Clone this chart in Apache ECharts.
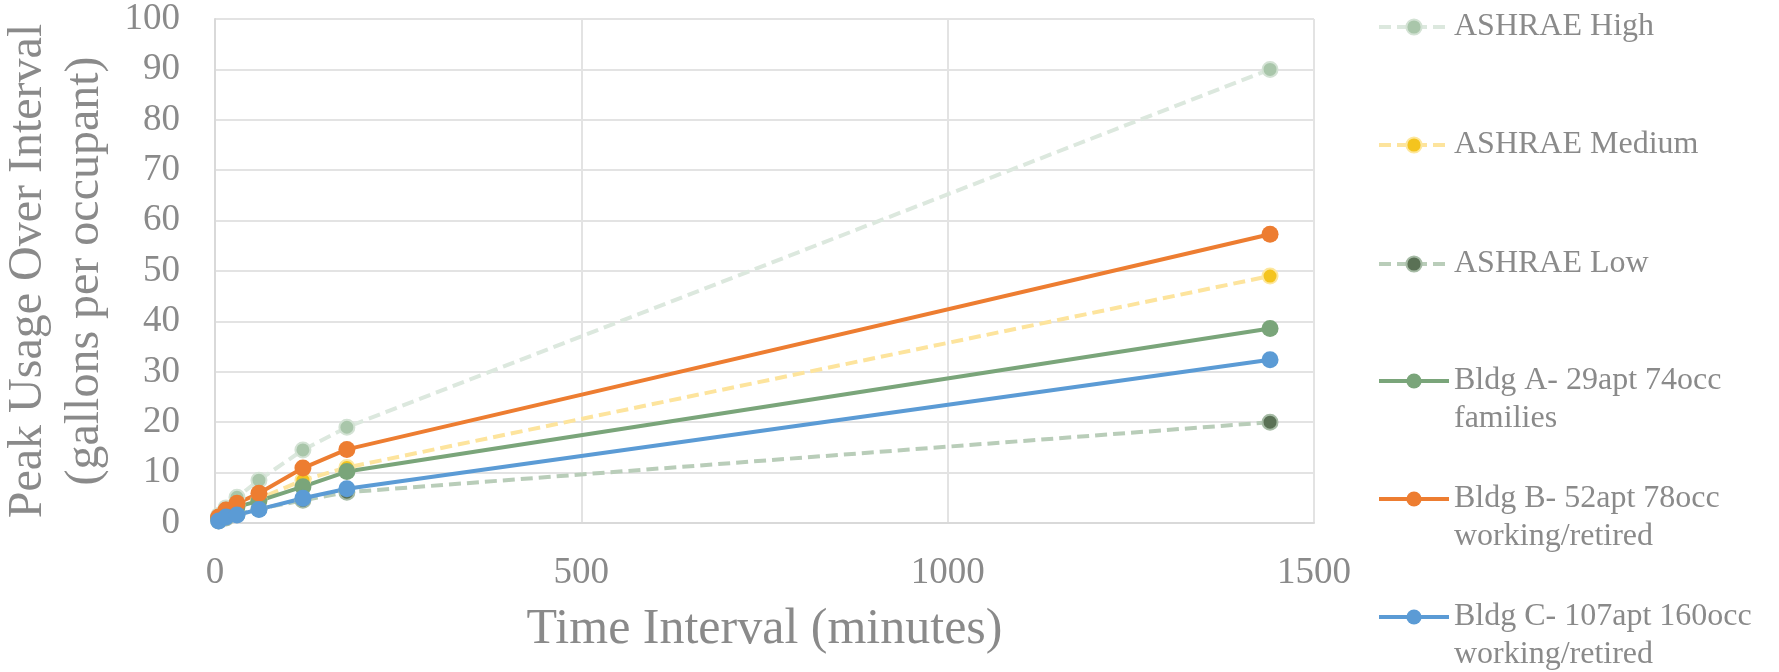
<!DOCTYPE html>
<html>
<head>
<meta charset="utf-8">
<title>Peak Usage Over Interval</title>
<script src="https://cdn.jsdelivr.net/npm/echarts@6/dist/echarts.min.js"></script>
<style>
  html, body { margin: 0; padding: 0; background: #fff; }
  #chart { width: 1779px; height: 672px; }
</style>
</head>
<body>
<div id="chart"></div>
<script>
// time intervals (minutes)
const minutes = [5, 15, 30, 60, 120, 180, 1440];

// peak usage, gallons per occupant
const ashraeHigh = [1.5, 3.0, 5.1, 8.5, 14.5, 19.0, 90.0];
const ashraeMedium = [1.0, 2.0, 3.5, 4.8, 8.5, 11.0, 49.0];
const ashraeLow = [0.4, 1.0, 1.7, 2.8, 4.5, 6.1, 20.0];
const bldgA = [1.0, 2.2, 3.2, 4.4, 7.2, 10.2, 38.6];
const bldgB = [1.2, 2.6, 3.9, 5.9, 10.9, 14.6, 57.3];
const bldgC = [0.4, 1.2, 1.6, 2.7, 4.9, 6.8, 32.4];

const seriesNames = [
  "ASHRAE High",
  "ASHRAE Medium",
  "ASHRAE Low",
  "Bldg A- 29apt 74occ\nfamilies",
  "Bldg B- 52apt 78occ\nworking/retired",
  "Bldg C- 107apt 160occ\nworking/retired"
];

const textColor = "#8a8a8a";
const font = "'Liberation Serif', 'DejaVu Serif', serif";

function pairs(ys) {
  return minutes.map((x, i) => [x, ys[i]]);
}

// dashed series (ASHRAE)
function dashed(name, ys, lineColor, fill, border) {
  return {
    name: name,
    type: "line",
    data: pairs(ys),
    symbol: "circle",
    symbolSize: 15,
    lineStyle: { color: lineColor, width: 4, type: [12, 6] },
    itemStyle: { color: fill, borderColor: border, borderWidth: 2 },
    emphasis: { disabled: true }
  };
}

// solid series (buildings)
function solid(name, ys, color) {
  return {
    name: name,
    type: "line",
    data: pairs(ys),
    symbol: "circle",
    symbolSize: 17,
    lineStyle: { color: color, width: 4 },
    itemStyle: { color: color },
    emphasis: { disabled: true }
  };
}

// one legend block per series so each row sits where the reference has it;
// two-line names get a blank first line so the icon lines up with line one
const legendRows = [27, 145, 264, 381, 499, 617];
const legends = seriesNames.map((n, i) => {
  const twoLines = n.indexOf("\n") >= 0;
  return {
    orient: "vertical",
    left: 1377,
    top: twoLines ? legendRows[i] - 57 : legendRows[i] - 19,
    itemWidth: 70,
    itemHeight: 19,
    padding: 0,
    lineStyle: { width: 4 },
    formatter: name => (twoLines ? "\n" + name : name),
    textStyle: { fontFamily: font, fontSize: 32, lineHeight: 38, color: textColor },
    data: [n]
  };
});

const chart = echarts.init(document.getElementById("chart"));
chart.setOption({
  animation: false,
  textStyle: { fontFamily: font },
  grid: { left: 215, right: 465, top: 19, bottom: 149, outerBoundsMode: "none" },
  legend: legends,
  xAxis: {
    type: "value",
    min: 0,
    max: 1500,
    interval: 500,
    name: "Time Interval (minutes)",
    nameLocation: "middle",
    nameGap: 80,
    nameTextStyle: { fontFamily: font, fontSize: 50, lineHeight: 54, color: textColor },
    axisLine: { show: true, lineStyle: { color: "#d9d9d9", width: 2 } },
    axisTick: { show: false },
    axisLabel: {
      margin: 32, fontSize: 37, color: textColor, fontFamily: font,
      formatter: v => String(v)
    },
    splitLine: { show: true, lineStyle: { color: "#e3e3e3", width: 2 } }
  },
  yAxis: {
    type: "value",
    min: 0,
    max: 100,
    interval: 10,
    name: "Peak Usage Over Interval\n(gallons per occupant)",
    nameLocation: "middle",
    nameGap: 84,
    nameTextStyle: { fontFamily: font, fontSize: 48, lineHeight: 57, color: textColor },
    axisLine: { show: true, lineStyle: { color: "#d9d9d9", width: 2 } },
    axisTick: { show: false },
    axisLabel: { margin: 35, fontSize: 37, color: textColor, fontFamily: font },
    splitLine: { show: true, lineStyle: { color: "#e3e3e3", width: 2 } }
  },
  series: [
    dashed(seriesNames[0], ashraeHigh, "#dce8de", "#a9c6aa", "#d3e2d4"),
    dashed(seriesNames[1], ashraeMedium, "#fde49d", "#f4c41e", "#fde79d"),
    dashed(seriesNames[2], ashraeLow, "#b9cdb9", "#5a7155", "#a6bba5"),
    solid(seriesNames[3], bldgA, "#7aa57a"),
    solid(seriesNames[4], bldgB, "#ed7d31"),
    solid(seriesNames[5], bldgC, "#5b9bd5")
  ]
});
</script>
</body>
</html>
